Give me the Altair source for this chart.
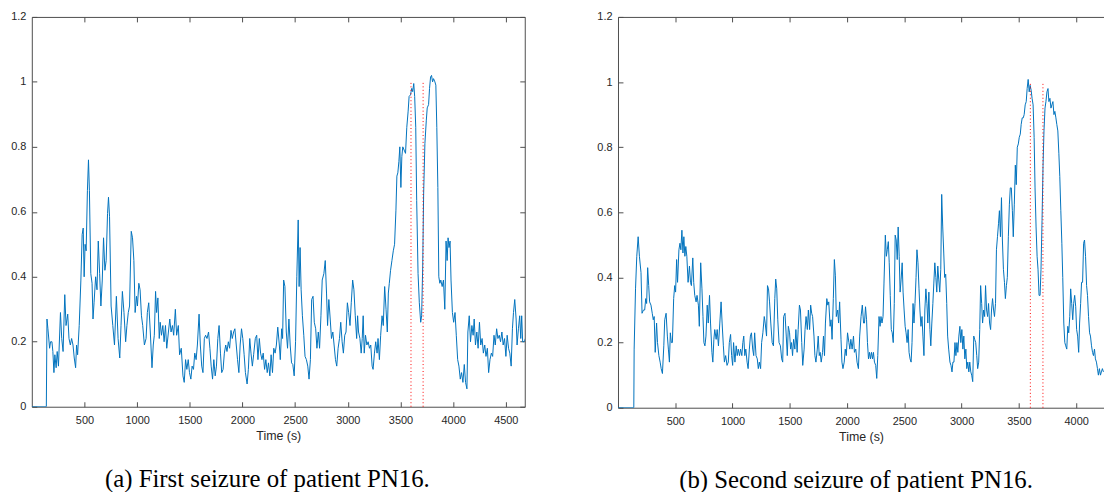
import altair as alt
import pandas as pd

# ---------------- data ----------------
# (a) First seizure: time (s) and value
t_a = [0, 138, 144, 153, 169, 178, 191, 200, 210, 219, 231, 241, 253, 272, 284, 297, 313, 325, 341, 353,
       366, 378, 391, 403, 416, 425, 435, 450, 466, 478, 488, 497, 506, 516, 528, 538, 547, 560, 572, 581,
       591, 606, 619, 631, 644, 656, 669, 681, 694, 706, 719, 728, 738, 753, 769, 785, 803, 819, 835, 847,
       860, 875, 891, 903, 916, 928, 944, 956, 969, 981, 994, 1003, 1016, 1028, 1041, 1053, 1069, 1085, 1097, 1110,
       1125, 1141, 1153, 1163, 1175, 1185, 1197, 1210, 1219, 1231, 1244, 1256, 1269, 1281, 1297, 1310, 1322, 1335, 1347, 1363,
       1375, 1391, 1403, 1419, 1435, 1447, 1460, 1472, 1485, 1497, 1510, 1522, 1535, 1547, 1560, 1572, 1588, 1600, 1613, 1625,
       1638, 1650, 1663, 1678, 1691, 1703, 1716, 1728, 1741, 1753, 1766, 1778, 1791, 1803, 1816, 1828, 1841, 1853, 1866, 1878,
       1891, 1903, 1916, 1928, 1941, 1953, 1966, 1978, 1991, 2003, 2016, 2028, 2044, 2056, 2069, 2081, 2094, 2106, 2122, 2135,
       2147, 2160, 2172, 2185, 2197, 2210, 2222, 2235, 2247, 2260, 2272, 2285, 2297, 2310, 2322, 2335,
       2350, 2359, 2372, 2381, 2391, 2403, 2416, 2428, 2441, 2453, 2466, 2478, 2491, 2504, 2516, 2529, 2538, 2547, 2557, 2569,
       2582, 2594, 2607, 2620, 2632, 2645, 2657, 2670, 2682, 2695, 2707, 2720, 2732, 2745, 2757, 2773, 2786, 2798, 2808, 2820,
       2833, 2845, 2858, 2870, 2883, 2895, 2908, 2921, 2933, 2946, 2958, 2971, 2983, 2996, 3008, 3021, 3033, 3046, 3058, 3071,
       3084, 3093, 3102, 3115, 3127, 3137, 3146, 3156, 3168, 3181, 3193, 3206, 3218, 3231, 3240, 3253, 3265, 3278, 3287, 3300,
       3312, 3325, 3337, 3350, 3363, 3375, 3385, 3394, 3406, 3419, 3432, 3444, 3457, 3466, 3475, 3485, 3494, 3504, 3513, 3522,
       3535, 3548, 3560, 3573, 3582, 3595, 3607, 3616, 3626, 3635, 3645, 3654, 3667, 3679, 3692, 3701, 3711, 3720, 3732, 3745,
       3754, 3767, 3776, 3786, 3795, 3805, 3814, 3827, 3836, 3845, 3855, 3864, 3874, 3883, 3896, 3908, 3921, 3933, 3943, 3952,
       3961, 3971, 3980, 3993, 4005, 4018, 4030, 4043, 4055, 4068, 4080, 4093, 4106, 4118, 4131, 4140, 4153, 4165, 4178, 4190,
       4200, 4212, 4225, 4237, 4250, 4262, 4275, 4287, 4300, 4312, 4325, 4337, 4350, 4363, 4375, 4388, 4400, 4413, 4425, 4438,
       4450, 4463, 4475, 4488, 4501, 4513, 4526, 4538, 4551, 4563, 4573, 4585, 4598, 4607, 4620, 4632, 4642, 4651, 4660, 4673,
       4685]
v_a = [0, 0, 0.27, 0.24, 0.18, 0.20, 0.20, 0.17, 0.105, 0.16, 0.12, 0.17, 0.125, 0.29, 0.21, 0.17, 0.345, 0.25, 0.285, 0.21,
       0.19, 0.21, 0.19, 0.15, 0.12, 0.19, 0.16, 0.25, 0.39, 0.53, 0.55, 0.40, 0.50, 0.48, 0.665, 0.76, 0.665, 0.41, 0.38, 0.27,
       0.32, 0.40, 0.36, 0.51, 0.41, 0.31, 0.39, 0.52, 0.42, 0.45, 0.595, 0.645, 0.585, 0.31, 0.25, 0.19, 0.34, 0.21, 0.15, 0.25,
       0.355, 0.29, 0.20, 0.25, 0.29, 0.31, 0.54, 0.52, 0.45, 0.29, 0.34, 0.31, 0.38, 0.36, 0.28, 0.25, 0.19, 0.21, 0.29, 0.32,
       0.23, 0.12, 0.19, 0.22, 0.355, 0.29, 0.335, 0.21, 0.26, 0.22, 0.25, 0.20, 0.25, 0.18, 0.23, 0.27, 0.23, 0.25, 0.22, 0.30,
       0.22, 0.25, 0.16, 0.18, 0.095, 0.075, 0.145, 0.115, 0.145, 0.105, 0.085, 0.125, 0.115, 0.165, 0.145, 0.19, 0.285, 0.19, 0.125, 0.105,
       0.21, 0.22, 0.21, 0.23, 0.18, 0.125, 0.085, 0.145, 0.095, 0.125, 0.21, 0.25, 0.165, 0.105, 0.115, 0.165, 0.19, 0.17, 0.20, 0.18,
       0.235, 0.21, 0.23, 0.24, 0.19, 0.145, 0.105, 0.19, 0.24, 0.21, 0.16, 0.105, 0.07, 0.115, 0.21, 0.165, 0.125, 0.16, 0.21, 0.22,
       0.145, 0.21, 0.165, 0.145, 0.165, 0.115, 0.145, 0.105, 0.135, 0.095, 0.16, 0.105, 0.18, 0.165, 0.19, 0.245,
       0.19, 0.145, 0.24, 0.21, 0.39, 0.37, 0.23, 0.18, 0.27, 0.19, 0.135, 0.13, 0.095, 0.20, 0.40, 0.575, 0.37, 0.49, 0.36, 0.28,
       0.22, 0.155, 0.145, 0.125, 0.085, 0.145, 0.33, 0.34, 0.26, 0.24, 0.18, 0.23, 0.18, 0.28, 0.39, 0.41, 0.45, 0.35, 0.25, 0.33,
       0.27, 0.21, 0.23, 0.19, 0.145, 0.125, 0.18, 0.21, 0.26, 0.20, 0.165, 0.22, 0.23, 0.32, 0.29, 0.25, 0.32, 0.39, 0.36, 0.28,
       0.21, 0.28, 0.23, 0.21, 0.165, 0.21, 0.28, 0.165, 0.22, 0.19, 0.20, 0.18, 0.19, 0.125, 0.115, 0.165, 0.20, 0.165, 0.21, 0.145,
       0.22, 0.28, 0.25, 0.37, 0.30, 0.23, 0.35, 0.38, 0.42, 0.45, 0.48, 0.50, 0.605, 0.71, 0.72, 0.755, 0.80, 0.675, 0.77, 0.80,
       0.79, 0.78, 0.86, 0.91, 0.955, 0.96, 0.98, 0.97, 0.995, 0.955, 0.86, 0.635, 0.41, 0.32, 0.26, 0.28, 0.43, 0.655, 0.81, 0.88,
       0.92, 0.93, 0.98, 1.015, 1.02, 1.0, 1.01, 1.0, 0.99, 0.86, 0.675, 0.40, 0.38, 0.39, 0.37, 0.39, 0.30, 0.51, 0.45, 0.52,
       0.49, 0.51, 0.39, 0.29, 0.26, 0.29, 0.22, 0.145, 0.125, 0.085, 0.105, 0.075, 0.13, 0.075, 0.055, 0.23, 0.28, 0.20, 0.25, 0.22,
       0.27, 0.19, 0.23, 0.18, 0.26, 0.19, 0.21, 0.165, 0.19, 0.155, 0.18, 0.105, 0.145, 0.165, 0.155, 0.22, 0.19, 0.24, 0.21, 0.22,
       0.20, 0.23, 0.19, 0.21, 0.155, 0.22, 0.18, 0.165, 0.125, 0.24, 0.29, 0.33, 0.27, 0.19, 0.24, 0.28, 0.21, 0.28, 0.20, 0.20,
       0.21]

# (b) Second seizure: time (s) and value
t_b = [0, 138, 141, 153, 164, 176, 187, 201, 210, 222, 233, 242, 250, 259, 268, 276, 288, 299, 308, 316,
       325, 337, 345, 357, 368, 377, 388, 400, 408, 420, 431, 440, 449, 457, 466, 475, 486, 495, 503, 512,
       520, 532, 541, 549, 558, 567, 575, 584, 592, 601, 612, 624, 633, 641, 653, 661, 670, 682, 690, 702,
       710, 722, 733, 742, 750, 759, 768, 779, 788, 799, 808, 820, 828, 837, 845, 857, 866, 877, 889, 900,
       909, 920, 929, 940, 952, 963, 972, 983, 992, 1001, 1009, 1021, 1032, 1041, 1050, 1061, 1070, 1081, 1090, 1098,
       1107, 1116, 1127, 1136, 1147, 1156, 1165, 1176, 1185, 1193, 1205, 1216, 1225, 1234, 1245, 1254, 1265, 1277, 1285, 1297,
       1305, 1314, 1323, 1334, 1346, 1357, 1369, 1377, 1386, 1395, 1406, 1418, 1429, 1438, 1446, 1458, 1469, 1478, 1487, 1498,
       1507, 1515, 1524, 1533, 1544, 1553, 1564, 1573, 1584, 1593, 1604, 1613, 1625, 1633, 1642, 1653, 1662, 1673, 1682, 1691,
       1699, 1711, 1719, 1728, 1740, 1748, 1757, 1765, 1774, 1786, 1794, 1803, 1811, 1823, 1832, 1840, 1852, 1860, 1869, 1880,
       1889, 1898, 1906, 1918, 1926, 1935, 1947, 1955, 1964, 1975, 1984, 1993, 2004, 2016, 2024, 2033, 2044, 2056, 2064, 2076,
       2087, 2099, 2110, 2122, 2133,
       2144, 2152, 2161, 2170, 2178, 2187, 2196, 2204, 2213, 2222, 2230, 2239, 2250, 2259, 2268, 2279, 2288, 2296, 2305, 2314,
       2322, 2334, 2343, 2351, 2360, 2368, 2377, 2386, 2394, 2403, 2412, 2420, 2429, 2438, 2446, 2455, 2463, 2472, 2481, 2489,
       2498, 2507, 2515, 2524, 2533, 2541, 2550, 2559, 2567, 2576, 2584, 2593, 2602, 2610, 2619, 2628, 2636, 2645, 2654, 2662,
       2671, 2679, 2688, 2697, 2705, 2714, 2723, 2731, 2740, 2749, 2757, 2766, 2775, 2783, 2792, 2800, 2809, 2818, 2826, 2835,
       2844, 2852, 2861, 2870, 2878, 2887, 2898, 2907, 2916, 2924, 2933, 2942, 2950, 2959, 2967, 2976, 2985, 2993, 3002, 3011,
       3019, 3028, 3037, 3045, 3054, 3063, 3071, 3080, 3088, 3097, 3106, 3114, 3123, 3132, 3140, 3149, 3158, 3166, 3175, 3183,
       3192, 3201, 3209, 3218, 3227, 3235, 3244, 3253, 3261, 3270, 3279, 3287, 3296, 3304, 3313, 3322, 3330, 3339, 3348, 3356,
       3365, 3374, 3382, 3391, 3399, 3408, 3417, 3425, 3434, 3443, 3451, 3460, 3469, 3477, 3486, 3495, 3503, 3512, 3520, 3529,
       3538, 3546, 3555, 3564, 3572, 3581, 3590, 3598, 3607, 3615, 3624, 3633, 3641, 3650, 3659, 3667, 3676, 3685, 3693, 3702,
       3711, 3719, 3728, 3736, 3745, 3754, 3762, 3771, 3780, 3788, 3797, 3806, 3814, 3823, 3831, 3840, 3849, 3857, 3866, 3875,
       3883, 3892, 3901, 3909, 3918, 3927, 3935, 3944, 3952, 3961, 3970, 3978, 3987, 3996, 4004, 4013, 4022, 4030, 4039, 4047,
       4056, 4065, 4073, 4082, 4091, 4099, 4108, 4117, 4125, 4134, 4143, 4151, 4160, 4168, 4177, 4186, 4194, 4203, 4212, 4220,
       4229, 4238]
v_b = [0, 0, 0.18, 0.365, 0.465, 0.525, 0.465, 0.415, 0.29, 0.30, 0.30, 0.335, 0.32, 0.43, 0.375, 0.325, 0.315, 0.29, 0.27, 0.28,
       0.17, 0.26, 0.20, 0.16, 0.14, 0.12, 0.105, 0.19, 0.27, 0.29, 0.22, 0.18, 0.14, 0.23, 0.20, 0.20, 0.335, 0.375, 0.355, 0.455,
       0.385, 0.485, 0.505, 0.485, 0.545, 0.475, 0.525, 0.465, 0.495, 0.465, 0.385, 0.435, 0.385, 0.375, 0.46, 0.385, 0.345, 0.325, 0.345, 0.315,
       0.25, 0.445, 0.365, 0.28, 0.20, 0.19, 0.22, 0.315, 0.26, 0.345, 0.26, 0.17, 0.14, 0.21, 0.24, 0.21, 0.24, 0.19, 0.26, 0.325,
       0.26, 0.19, 0.14, 0.16, 0.13, 0.14, 0.20, 0.225, 0.16, 0.13, 0.20, 0.14, 0.19, 0.16, 0.18, 0.16, 0.18, 0.16, 0.20, 0.22,
       0.16, 0.18, 0.14, 0.12, 0.18, 0.22, 0.23, 0.18, 0.16, 0.23, 0.16, 0.15, 0.12, 0.14, 0.12, 0.20, 0.23, 0.28, 0.26, 0.22,
       0.375, 0.365, 0.325, 0.26, 0.20, 0.19, 0.335, 0.395, 0.365, 0.27, 0.20, 0.19, 0.15, 0.14, 0.28, 0.29, 0.22, 0.16, 0.25, 0.23,
       0.18, 0.20, 0.16, 0.21, 0.18, 0.24, 0.17, 0.24, 0.315, 0.30, 0.20, 0.13, 0.18, 0.24, 0.28, 0.24, 0.30, 0.24, 0.315, 0.29,
       0.28, 0.22, 0.16, 0.14, 0.18, 0.22, 0.16, 0.17, 0.14, 0.17, 0.22, 0.16, 0.26, 0.335, 0.315, 0.325, 0.25, 0.27, 0.21, 0.335,
       0.455, 0.405, 0.28, 0.30, 0.26, 0.325, 0.21, 0.14, 0.12, 0.14, 0.18, 0.16, 0.23, 0.20, 0.18, 0.21, 0.18, 0.22, 0.17, 0.18,
       0.14, 0.12, 0.22, 0.28, 0.315,
       0.26, 0.26, 0.31, 0.27, 0.20, 0.15, 0.17, 0.15, 0.17, 0.15, 0.17, 0.14, 0.13, 0.09, 0.16, 0.28, 0.25, 0.28, 0.26, 0.28,
       0.38, 0.53, 0.465, 0.485, 0.51, 0.445, 0.345, 0.24, 0.23, 0.20, 0.32, 0.53, 0.515, 0.455, 0.555, 0.465, 0.355, 0.395, 0.445, 0.355,
       0.30, 0.25, 0.23, 0.20, 0.24, 0.17, 0.15, 0.14, 0.20, 0.32, 0.26, 0.32, 0.40, 0.485, 0.445, 0.365, 0.30, 0.25, 0.28, 0.22,
       0.16, 0.30, 0.365, 0.32, 0.26, 0.355, 0.24, 0.19, 0.26, 0.32, 0.38, 0.445, 0.40, 0.355, 0.435, 0.395, 0.355, 0.425, 0.655, 0.555,
       0.475, 0.40, 0.41, 0.32, 0.22, 0.18, 0.14, 0.13, 0.11, 0.14, 0.14, 0.20, 0.16, 0.20, 0.17, 0.22, 0.25, 0.20, 0.24, 0.18,
       0.22, 0.15, 0.18, 0.12, 0.14, 0.11, 0.14, 0.11, 0.10, 0.08, 0.22, 0.21, 0.20, 0.16, 0.12, 0.14, 0.24, 0.375, 0.32, 0.26,
       0.30, 0.28, 0.375, 0.30, 0.28, 0.32, 0.26, 0.24, 0.30, 0.335, 0.30, 0.28, 0.32, 0.485, 0.525, 0.565, 0.605, 0.525, 0.645, 0.515,
       0.425, 0.385, 0.335, 0.375, 0.40, 0.525, 0.625, 0.675, 0.675, 0.605, 0.525, 0.625, 0.745, 0.685, 0.80, 0.81, 0.83, 0.84, 0.87, 0.89,
       0.89, 0.90, 0.93, 0.94, 0.98, 1.008, 0.97, 0.99, 0.975, 0.95, 0.93, 0.83, 0.675, 0.555, 0.465, 0.425, 0.345, 0.345, 0.425, 0.575,
       0.745, 0.85, 0.92, 0.94, 0.97, 0.98, 0.94, 0.95, 0.92, 0.93, 0.94, 0.90, 0.91, 0.89, 0.87, 0.85, 0.78, 0.71, 0.605, 0.505,
       0.40, 0.26, 0.20, 0.19, 0.18, 0.25, 0.23, 0.28, 0.365, 0.32, 0.27, 0.32, 0.345, 0.31, 0.24, 0.22, 0.17, 0.26, 0.32, 0.385,
       0.385, 0.505, 0.515, 0.465, 0.375, 0.345, 0.28, 0.23, 0.22, 0.19, 0.17, 0.16, 0.18, 0.15, 0.14, 0.12, 0.10, 0.12, 0.10, 0.11,
       0.12, 0.11]

onsets_a = [3600, 3715]
onsets_b = [3600, 3710]
marker_top = 1.0

x_ticks_a = [500, 1000, 1500, 2000, 2500, 3000, 3500, 4000, 4500]
x_ticks_b = [500, 1000, 1500, 2000, 2500, 3000, 3500, 4000]
y_ticks = [0, 0.2, 0.4, 0.6, 0.8, 1.0, 1.2]
x_max_a = 4680
x_max_b = 4243
y_max = 1.2

x_title = "Time (s)"
caption_a = "(a) First seizure of patient PN16."
caption_b = "(b) Second seizure of patient PN16."

# ---------------- styling ----------------
LINE_COLOR = "#0072bd"
MARK_COLOR = "#ff0000"
AXIS_COLOR = "#4d4d4d"
TEXT_COLOR = "#262626"
FONT = "Liberation Sans"
SERIF = "Liberation Serif"
TICK = 5


def tick_axis(orient, values):
    return alt.Axis(orient=orient, offset=-TICK, values=values, ticks=True, tickSize=TICK,
                    tickColor=AXIS_COLOR, tickWidth=1, labels=False, domain=False, grid=False,
                    title=None)


def frame_axis(orient):
    return alt.Axis(orient=orient, ticks=False, labels=False, domain=True, domainColor=AXIS_COLOR,
                    domainWidth=1, grid=False, title=None)


def make_panel(t, v, onsets, x_max, x_ticks, width, height, caption, cap_dx, right_side):
    line_df = pd.DataFrame({"t": t, "v": v})
    rule_df = pd.DataFrame({"t": onsets, "v": [0] * len(onsets), "v2": [marker_top] * len(onsets)})
    xs = alt.Scale(domain=[0, x_max], nice=False, zero=False)
    ys = alt.Scale(domain=[0, y_max], nice=False)

    lab_x = alt.Axis(orient="bottom", values=x_ticks, format="d", ticks=False, tickSize=0, grid=False,
                     domain=True, domainColor=AXIS_COLOR, domainWidth=1,
                     labelFont=FONT, labelFontSize=11, labelColor=TEXT_COLOR, labelPadding=13.5,
                     labelBaseline="middle",
                     title=x_title, titleFont=FONT, titleFontSize=12.5, titleFontWeight="normal",
                     titleColor=TEXT_COLOR, titleY=29.5, titleBaseline="middle")
    lab_y = alt.Axis(orient="left", values=y_ticks, format="~g", ticks=False, tickSize=0, grid=False,
                     domain=True, domainColor=AXIS_COLOR, domainWidth=1,
                     labelFont=FONT, labelFontSize=11, labelColor=TEXT_COLOR, labelPadding=6,
                     title=None)

    ghost1 = alt.Chart(line_df).mark_line(strokeOpacity=0, clip=True).encode(
        x=alt.X("t:Q", scale=xs, axis=tick_axis("top", x_ticks)),
        y=alt.Y("v:Q", scale=ys, axis=tick_axis("right", y_ticks) if right_side else None),
    )
    ghost2 = alt.Chart(line_df).mark_line(strokeOpacity=0, clip=True).encode(
        x=alt.X("t:Q", scale=xs, axis=frame_axis("top")),
        y=alt.Y("v:Q", scale=ys, axis=frame_axis("right") if right_side else None),
    )
    line = alt.Chart(line_df).mark_line(color=LINE_COLOR, strokeWidth=1, clip=True).encode(
        x=alt.X("t:Q", scale=xs, axis=lab_x),
        y=alt.Y("v:Q", scale=ys, axis=lab_y),
    )
    rules = alt.Chart(rule_df).mark_rule(color=MARK_COLOR, strokeWidth=1, strokeDash=[1, 2.5]).encode(
        x=alt.X("t:Q", scale=xs, axis=tick_axis("bottom", x_ticks)),
        y=alt.Y("v:Q", scale=ys, axis=tick_axis("left", y_ticks)),
        y2="v2:Q",
    )
    return alt.layer(ghost1, ghost2, line, rules).resolve_axis(x="independent", y="independent").properties(
        width=width, height=height,
        title=alt.TitleParams(caption, orient="bottom", anchor="middle", font=SERIF, fontSize=25,
                              fontWeight="normal", color="black", dx=cap_dx, offset=25),
    )


left = make_panel(t_a, v_a, onsets_a, x_max_a, x_ticks_a, 497, 393, caption_a, -11, True)
right = make_panel(t_b, v_b, onsets_b, x_max_b, x_ticks_b, 490, 394, caption_b, -5, False)

chart = alt.hconcat(left, right, spacing=71).properties(
    padding={"left": 2, "top": 1, "right": 0, "bottom": 0},
    background="white",
).configure_view(stroke=None)

chart.save("out.html", embed_options={"renderer": "svg", "actions": False})
